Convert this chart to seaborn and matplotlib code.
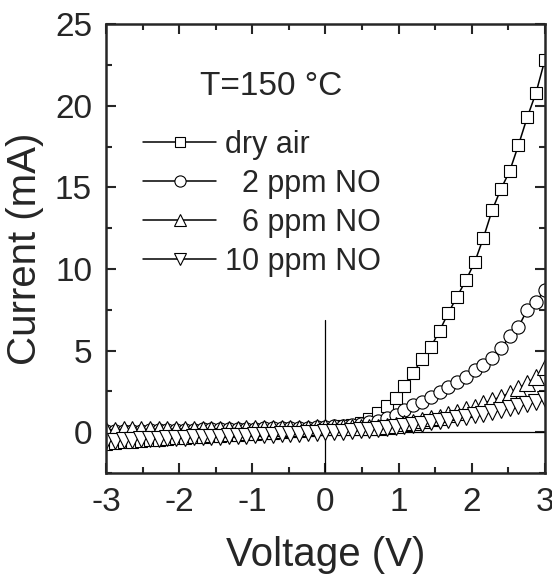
import pandas as pd
import seaborn as sns
import matplotlib.pyplot as plt
from matplotlib.ticker import MultipleLocator

voltage = [-3.00, -2.88, -2.76, -2.64, -2.52, -2.40, -2.28, -2.16, -2.04, -1.92,
           -1.80, -1.68, -1.56, -1.44, -1.32, -1.20, -1.08, -0.96, -0.84, -0.72,
           -0.60, -0.48, -0.36, -0.24, -0.12, 0.00, 0.12, 0.24, 0.36, 0.48,
           0.60, 0.72, 0.84, 0.96, 1.08, 1.20, 1.32, 1.44, 1.56, 1.68,
           1.80, 1.92, 2.04, 2.16, 2.28, 2.40, 2.52, 2.64, 2.76, 2.88, 3.00]

dry_air = [-0.70, -0.66, -0.62, -0.58, -0.54, -0.50, -0.46, -0.42, -0.38, -0.35,
           -0.32, -0.28, -0.25, -0.22, -0.18, -0.15, -0.12, -0.09, -0.06, -0.03,
           0.00, 0.04, 0.08, 0.12, 0.17, 0.22, 0.28, 0.35, 0.45, 0.58,
           0.80, 1.15, 1.60, 2.10, 2.80, 3.60, 4.50, 5.20, 6.20, 7.30,
           8.30, 9.30, 10.40, 11.90, 13.60, 14.90, 16.00, 17.60, 19.30, 20.80, 22.80]

no_2ppm = [0.05, 0.06, 0.07, 0.08, 0.08, 0.10, 0.11, 0.12, 0.12, 0.14,
           0.15, 0.16, 0.16, 0.18, 0.19, 0.20, 0.20, 0.22, 0.23, 0.24,
           0.25, 0.26, 0.27, 0.28, 0.29, 0.30, 0.35, 0.40, 0.46, 0.52,
           0.60, 0.70, 0.85, 1.04, 1.35, 1.65, 1.86, 2.16, 2.47, 2.78,
           3.08, 3.39, 3.80, 4.10, 4.52, 5.13, 5.88, 6.45, 7.50, 8.00, 8.70]

no_6ppm = [0.15, 0.15, 0.16, 0.16, 0.17, 0.17, 0.18, 0.18, 0.19, 0.19,
           0.20, 0.20, 0.21, 0.21, 0.22, 0.22, 0.23, 0.23, 0.24, 0.25,
           0.25, 0.26, 0.27, 0.28, 0.29, 0.30, 0.30, 0.30, 0.30, 0.31,
           0.32, 0.34, 0.38, 0.45, 0.53, 0.63, 0.74, 0.84, 0.94, 1.08,
           1.24, 1.39, 1.55, 1.76, 1.96, 2.16, 2.40, 2.70, 3.00, 3.40, 4.00]

no_10ppm = [-0.55, -0.52, -0.50, -0.47, -0.45, -0.42, -0.40, -0.38, -0.36, -0.34,
            -0.32, -0.30, -0.28, -0.27, -0.25, -0.24, -0.22, -0.20, -0.18, -0.16,
            -0.14, -0.12, -0.10, -0.07, -0.04, -0.02, 0.00, 0.03, 0.06, 0.10,
            0.14, 0.19, 0.25, 0.31, 0.38, 0.45, 0.52, 0.60, 0.68, 0.76,
            0.85, 0.94, 1.03, 1.12, 1.22, 1.33, 1.45, 1.57, 1.70, 1.84, 2.00]

labels = ["dry air", "  2 ppm NO", "  6 ppm NO", "10 ppm NO"]
markers = ["s", "o", "^", "v"]
sizes = [8.5, 9.5, 11, 11]

df = pd.DataFrame({"voltage": voltage, "dry air": dry_air, "2 ppm": no_2ppm,
                   "6 ppm": no_6ppm, "10 ppm": no_10ppm})

sns.set_style("ticks")
plt.rcParams["font.family"] = ["Liberation Sans", "DejaVu Sans"]
plt.rcParams["axes.unicode_minus"] = False

fig = plt.figure(figsize=(5.52, 5.76), dpi=100)
ax = fig.add_axes([0.192, 0.179, 0.795, 0.779])

cols = ["dry air", "2 ppm", "6 ppm", "10 ppm"]
for col, lab, m, s in zip(cols, labels, markers, sizes):
    sns.lineplot(x="voltage", y=col, data=df, ax=ax, label=lab, color="black",
                 marker=m, markersize=s, markerfacecolor="white",
                 markeredgecolor="black", markeredgewidth=0.8, linewidth=1.1)

ax.plot([0, 0], [-2.5, 6.9], color="black", linewidth=0.9, zorder=1)
ax.plot([0, 3], [0, 0], color="black", linewidth=0.9, zorder=1)

ax.set_xlim(-3, 3)
ax.set_ylim(-2.5, 25)
ax.xaxis.set_major_locator(MultipleLocator(1))
ax.xaxis.set_minor_locator(MultipleLocator(0.5))
ax.yaxis.set_major_locator(MultipleLocator(5))
ax.yaxis.set_minor_locator(MultipleLocator(2.5))
ax.tick_params(which="both", direction="in", top=True, right=True, width=1.5)
ax.tick_params(which="major", length=7, labelsize=24, pad=10)
ax.tick_params(which="minor", length=4)
for sp in ax.spines.values():
    sp.set_linewidth(1.8)

ax.set_xlabel("Voltage (V)", fontsize=29, labelpad=13)
ax.set_ylabel("Current (mA)", fontsize=29, labelpad=8)

ax.text(-0.74, 21.2, "T=150 °C", fontsize=24, ha="center", va="center")

leg = ax.legend(loc="upper left", bbox_to_anchor=(0.084, 0.765), frameon=False,
                fontsize=22, handlelength=2.4, handletextpad=0.3,
                labelspacing=0.3, borderaxespad=0, borderpad=0, markerscale=0.85)

plt.savefig("out.png", dpi=100)
